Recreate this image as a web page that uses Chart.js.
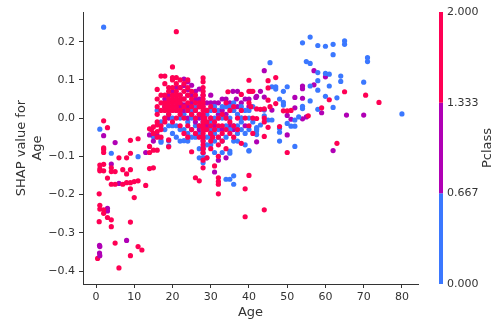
<!DOCTYPE html>
<html>
<head>
<meta charset="utf-8">
<script src="https://cdn.jsdelivr.net/npm/chart.js@4.4.0/dist/chart.umd.min.js"></script>
<style>
  html, body { margin: 0; padding: 0; background: #fff; }
  #wrap { width: 502px; height: 326px; }
</style>
</head>
<body>
<div id="wrap"><canvas id="chart" width="502" height="326"></canvas></div>
<script>
// SHAP dependence of Age, coloured by Pclass (encoded 0 / 1 / 2)
// each entry: [age, shap value]
const firstClass = [
  [1,-0.029],[2,0.238],[4,-0.092],[11,-0.101],[15,-0.049],[16,0.02],[17,-0.063],[17,-0.059],[17,-0.01],[18,0.0],[18,0.03],[18,-0.03],[19,-0.073],[19,-0.059],[19,0.01],[19,-0.02],
  [20,-0.04],[20,0.0],[20,-0.02],[21,-0.05],[21,-0.02],[21,0.02],[22,-0.06],[22,-0.03],[22,0.0],[22,0.04],[23,-0.059],[23,-0.03],[23,0.01],[24,-0.06],[24,-0.04],[24,-0.01],[24,0.02],
  [25,-0.05],[25,-0.03],[25,0.0],[25,0.02],[26,-0.05],[26,-0.02],[26,0.0],[26,0.03],
  [27,-0.104],[27,-0.08],[27,-0.04],[27,-0.02],[27,0.01],[28,-0.117],[28,-0.104],[28,-0.092],[28,-0.08],[28,-0.06],[28,-0.03],[28,-0.01],[28,0.0],[29,-0.104],[29,-0.07],[29,-0.05],[29,-0.02],[29,0.01],
  [30,-0.07],[30,-0.05],[30,-0.03],[30,-0.01],[30,0.02],[31,-0.09],[31,-0.06],[31,-0.04],[31,0.0],[31,0.03],[32,-0.05],[32,-0.03],[32,0.0],[32,0.02],[33,-0.09],[33,-0.06],[33,0.0],[33,0.03],[34,-0.16],[34,-0.05],[34,-0.02],[34,0.0],[34,0.03],
  [35,-0.16],[35,-0.092],[35,-0.086],[35,-0.03],[35,0.0],[35,0.03],[36,-0.173],[36,-0.151],[36,-0.06],[36,-0.02],[36,0.02],[36,0.04],[37,-0.06],[37,-0.04],[37,-0.02],[37,0.01],[38,-0.03],[38,-0.01],[38,0.0],[38,0.03],[39,-0.07],[39,-0.04],[39,0.02],
  [40,-0.086],[40,-0.085],[40,-0.03],[40,0.0],[40,0.02],[41,-0.01],[41,0.03],[42,-0.043],[42,-0.034],[42,-0.029],[42,-0.025],[43,-0.018],[44,0.006],[44,0.021],[45,-0.005],[45.5,0.145],[46,-0.005],[46,0.082],[47,0.076],[47,0.082],
  [48,-0.06],[48,-0.037],[48,-0.027],[48,0.05],[49,0.034],[49,0.041],[49,0.07],[50,-0.014],[50,0.082],[51,-0.021],[52,-0.074],[52,-0.021],[52,-0.005],[53,0.003],
  [54,0.025],[54,0.031],[54,0.197],[55,0.148],[56,0.045],[56,0.084],[56,0.143],[56,0.212],[58,0.023],[58,0.073],[58,0.098],[58,0.119],[58,0.19],
  [60,0.057],[60,0.117],[60,0.188],[61,0.084],[61,0.115],[62,0.028],[62,0.166],[62,0.193],[63,0.053],[64,0.096],[64,0.11],[65,0.193],[65,0.202],[70,0.094],[71,0.148],[71,0.158],[80,0.011]
];
const secondClass = [
  [0.92,-0.333],[0.92,-0.353],[1,-0.336],[1,-0.36],[2,-0.046],[3,-0.236],[3,-0.243],[4,-0.12],[5,-0.064],[6,-0.171],[8,-0.32],[13,-0.09],[14,-0.044],[16,-0.045],[15,-0.06],
  [18,0.03],[18,0.05],[19,0.0],[19,0.02],[19,0.04],[19,0.06],[20,0.03],[20,0.05],[20,0.07],[21,0.04],[21,0.06],[21,0.08],[22,0.03],[22,0.06],[22,0.08],
  [23,0.02],[23,0.035],[23,0.05],[23,0.085],[23,0.102],[24,0.0],[24,0.03],[24,0.06],[24,0.075],[24,0.095],[25,0.01],[25,0.04],[25,0.06],[25,0.086],[26,-0.01],[26,0.02],[26,0.05],[26,0.07],
  [27,-0.03],[27,0.0],[27,0.03],[27,0.05],[27,0.076],[28,-0.08],[28,-0.05],[28,-0.02],[28,0.0],[28,0.03],[28,0.06],[29,-0.02],[29,0.02],[29,0.04],
  [30,-0.04],[30,0.0],[30,0.04],[30,0.06],[31,-0.141],[31,-0.02],[31,0.04],[32,-0.11],[32,0.01],[32,0.04],[33,-0.03],[33,0.02],[33,0.05],[34,-0.104],[34,0.01],[34,0.05],
  [35,-0.02],[35,0.04],[35.8,0.07],[36,-0.03],[36,0.02],[36.7,0.05],[37,0.03],[37,0.07],[38,0.0],[38,0.04],[39,-0.02],[39,0.05],[40,0.03],[40,0.05],
  [41.8,0.054],[42,-0.062],[42,0.057],[43,0.07],[44,0.055],[44,0.124],[46,0.021],
  [50,-0.044],[50,0.007],[51,-0.003],[52,0.027],[52,0.054],[54,-0.002],[54,0.052],[54,0.077],[54,0.084],[55,0.003],[57,0.087],[57,0.124],[59,0.014],[60,0.108],[62,-0.085],[65.5,0.008],[70,0.008]
];
const thirdClass = [
  [0.42,-0.367],[0.83,-0.198],[0.83,-0.271],[1,-0.123],[1,-0.133],[1,-0.138],[1,-0.228],[1,-0.238],
  [2,-0.007],[2,-0.078],[2,-0.082],[2,-0.09],[2,-0.121],[2,-0.138],[2,-0.24],[2,-0.249],
  [3,-0.025],[3,-0.157],[3,-0.26],[4,-0.13],[4,-0.14],[4,-0.173],[4,-0.266],[4,-0.284],
  [5,-0.14],[5,-0.173],[5,-0.327],[6,-0.104],[6,-0.392],[7,-0.135],[7,-0.173],
  [8,-0.104],[8,-0.146],[8,-0.169],[9,-0.058],[9,-0.092],[9,-0.135],[9,-0.169],[9,-0.185],[9,-0.272],[9,-0.36],
  [10,-0.166],[10,-0.208],[11,-0.054],[11,-0.164],[11,-0.336],[12,-0.345],[13,-0.176],
  [14,-0.028],[14,-0.074],[14,-0.09],[14,-0.132],[14.5,-0.03],[15,-0.023],[15,-0.04],[15,-0.084],[15,-0.13],
  [16,-0.018],[16,-0.035],[16,-0.05],[16,-0.084],[16,-0.01],[16,0.01],[16,0.03],[16,0.05],[16,0.075],
  [17,-0.03],[17,-0.05],[17,-0.02],[17,0.02],[17,0.04],[17,0.06],[17,0.11],
  [18,-0.01],[18,0.0],[18,0.02],[18,0.03],[18,0.04],[18,0.06],[18,0.09],[18,0.11],
  [19,-0.075],[19,-0.057],[19,0.01],[19,0.02],[19,0.03],[19,0.04],[19,0.05],[19,0.07],[19,0.08],
  [20,-0.01],[20,0.02],[20,0.03],[20,0.04],[20,0.05],[20,0.06],[20,0.08],[20,0.1],[20,0.106],[20,0.134],[20.5,0.045],
  [21,0.0],[21,0.02],[21,0.03],[21,0.04],[21,0.05],[21,0.06],[21,0.07],[21,0.09],[21,0.106],[21,0.226],
  [22,-0.02],[22,0.01],[22,0.02],[22,0.04],[22,0.05],[22,0.06],[22,0.08],[22,0.1],
  [23,-0.04],[23,0.0],[23,0.03],[23,0.05],[23,0.07],[23,0.09],
  [24,-0.05],[24,-0.02],[24,0.02],[24,0.04],[24,0.06],[24,0.08],[24,0.1],
  [25,-0.088],[25,-0.03],[25,0.01],[25,0.03],[25,0.05],[25,0.07],
  [26,-0.156],[26,-0.04],[26,0.0],[26,0.02],[26,0.04],[26,0.06],
  [27,-0.164],[27,-0.05],[27,-0.02],[27,0.01],[27,0.03],[27,0.04],
  [28,-0.13],[28,-0.11],[28,-0.09],[28,-0.08],[28,-0.07],[28,-0.06],[28,-0.05],[28,-0.04],[28,-0.03],[28,-0.02],[28,-0.01],[28,0.0],[28,0.01],[28,0.02],[28,0.03],[28,0.04],[28,0.05],[28,0.06],[28,0.07],[28,0.08],[28,0.095],[28,0.105],
  [28.5,-0.03],[28.5,0.0],
  [29,-0.104],[29,-0.03],[29,-0.01],[29,0.02],
  [30,-0.08],[30,-0.06],[30,-0.04],[30,-0.02],[30,0.0],[30,0.03],[30.5,-0.05],
  [31,-0.125],[31,-0.03],[31,-0.01],[31,0.02],
  [32,-0.198],[32,-0.173],[32,-0.166],[32,-0.156],[32,-0.1],[32,-0.07],[32,-0.05],[32,-0.02],[32,0.0],
  [33,-0.06],[33,-0.04],[33,-0.02],[33,0.01],
  [34,-0.08],[34,-0.03],[34,0.0],[34,0.04],[34.5,0.069],
  [35,-0.04],[35,-0.01],[35,0.02],[36,-0.05],[36,-0.02],[36,0.03],[37,-0.03],[37,0.0],
  [38,-0.066],[38,0.02],[38,0.062],[39,-0.258],[39,-0.185],[39,0.0],
  [40,-0.15],[40,-0.02],[40,0.04],[40,0.07],[40,0.099],[40.5,0.03],[40.5,0.07],
  [41,-0.04],[41,0.0],[41,0.07],[42,-0.001],[42,0.024],[43,0.023],
  [44,-0.24],[44,-0.048],[44,-0.01],[44,0.0],[44,0.024],
  [45,-0.024],[45,0.047],[45,0.079],[45,0.098],[45.5,0.03],[47,0.038],[47,0.106],
  [48,-0.022],[49,0.019],[50,-0.09],[50,0.019],[51,0.02],[55.5,0.006],[59,0.027],[61,0.048],[63,-0.066],[65,0.069],[70.5,0.06],[74,0.041]
];

const xTicks = [0, 10, 20, 30, 40, 50, 60, 70, 80];
const yTicks = [-0.4, -0.3, -0.2, -0.1, 0.0, 0.1, 0.2];
const cbTicks = [0, 0.667, 1.333, 2.0];
const classColors = ['#3b78ff', '#b000b5', '#ff0054'];

const AXIS = '#333333';
Chart.defaults.font.family = "'DejaVu Sans', sans-serif";

// interleave the classes so no colour sits entirely on top
const groups = [thirdClass, secondClass, firstClass];
const groupColors = [classColors[2], classColors[1], classColors[0]];
const points = [], colors = [];
const longest = Math.max(...groups.map(g => g.length));
for (let i = 0; i < longest; i++) {
  groups.forEach((g, c) => {
    if (i < g.length) { points.push({ x: g[i][0], y: g[i][1] }); colors.push(groupColors[c]); }
  });
}

// discrete colour bar for Pclass on the right
const colorbar = {
  id: 'colorbar',
  afterDraw(chart) {
    const { ctx, chartArea } = chart;
    const x = 439, w = 4;
    const lo = cbTicks[0], hi = cbTicks[cbTicks.length - 1];
    const py = v => chartArea.bottom - (v - lo) / (hi - lo) * (chartArea.bottom - chartArea.top);
    ctx.save();
    for (let i = 0; i < cbTicks.length - 1; i++) {
      ctx.fillStyle = classColors[i];
      ctx.fillRect(x, py(cbTicks[i + 1]), w, py(cbTicks[i]) - py(cbTicks[i + 1]));
    }
    ctx.fillStyle = AXIS;
    ctx.font = "11px 'DejaVu Sans'";
    ctx.textAlign = 'left';
    ctx.textBaseline = 'middle';
    cbTicks.forEach(v => ctx.fillText(v.toFixed(3), x + w + 4, py(v)));
    ctx.translate(488, (chartArea.top + chartArea.bottom) / 2);
    ctx.rotate(-Math.PI / 2);
    ctx.font = "13px 'DejaVu Sans'";
    ctx.textAlign = 'center';
    ctx.fillText('Pclass', 0, 0);
    ctx.restore();
  }
};

new Chart(document.getElementById('chart'), {
  type: 'scatter',
  data: {
    datasets: [{
      data: points,
      pointBackgroundColor: colors,
      pointBorderWidth: 0,
      pointRadius: 2.6,
      pointHoverRadius: 2.6
    }]
  },
  options: {
    responsive: false,
    animation: false,
    devicePixelRatio: 1,
    layout: { padding: { top: 12, right: 84, bottom: 0, left: 0 } },
    plugins: { legend: { display: false }, tooltip: { enabled: false } },
    scales: {
      x: {
        type: 'linear',
        min: -3.4,
        max: 84.2,
        afterBuildTicks: s => { s.ticks = xTicks.map(v => ({ value: v })); },
        afterFit: s => { s.height = 42; },
        grid: { drawOnChartArea: false, drawTicks: true, tickLength: 4, color: AXIS },
        border: { display: true, color: AXIS, width: 1 },
        ticks: { color: AXIS, font: { size: 11 }, padding: 3, maxRotation: 0 },
        title: { display: true, text: 'Age', color: AXIS, font: { size: 13 }, padding: { top: 0, bottom: 6 } }
      },
      y: {
        type: 'linear',
        min: -0.434,
        max: 0.2776,
        afterBuildTicks: s => { s.ticks = yTicks.map(v => ({ value: v })); },
        afterFit: s => { s.width = 83; },
        grid: { drawOnChartArea: false, drawTicks: true, tickLength: 4, color: AXIS },
        border: { display: true, color: AXIS, width: 1 },
        ticks: {
          color: AXIS, font: { size: 11 }, padding: 4,
          callback: v => v.toFixed(1).replace('-', '\u2212')
        },
        title: { display: true, text: ['SHAP value for', 'Age'], color: AXIS, font: { size: 13 }, padding: { top: 14, bottom: 0 } }
      }
    }
  },
  plugins: [colorbar]
});
</script>
</body>
</html>
